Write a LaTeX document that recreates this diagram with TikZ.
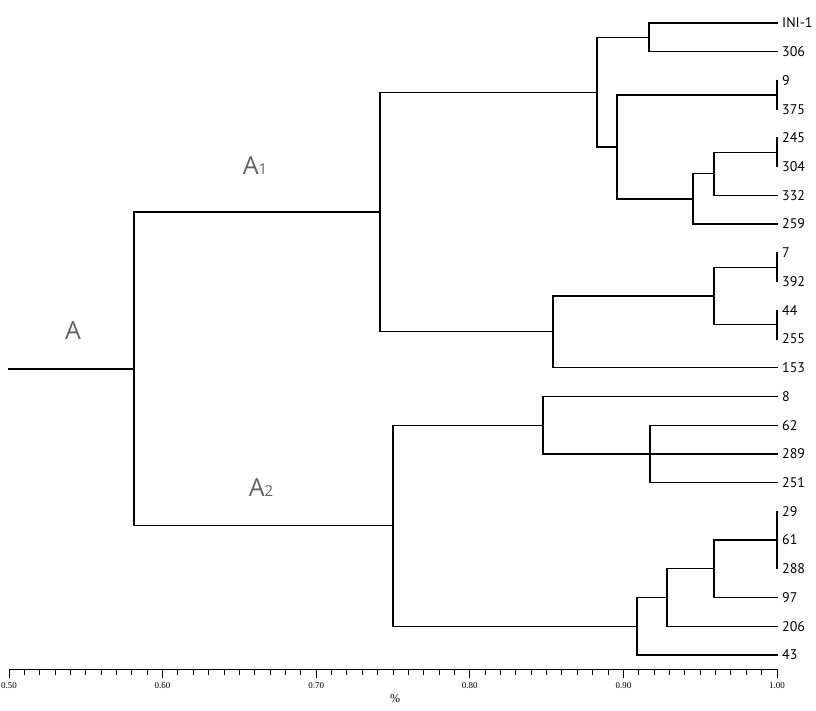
\documentclass[tikz,border=0pt]{standalone}
\usepackage{fontspec}
\newfontfamily\leaffont{PT Sans}
\newfontfamily\grpfont{Open Sans}
\newfontfamily\axfont{Liberation Serif}
\definecolor{grplab}{HTML}{636363}
\tikzset{
  branch/.style={line width=1.3pt, line cap=rect},
  leaflab/.style={anchor=west, inner sep=0pt, font=\leaffont\fontsize{14}{14}\selectfont},
  grplabel/.style={text=grplab, inner sep=0pt, font=\grpfont\fontsize{25}{25}\selectfont},
  axlab/.style={inner sep=0pt, font=\axfont\fontsize{9}{9}\selectfont},
  axline/.style={line width=1pt},
}
\begin{document}
\begin{tikzpicture}[x=1pt,y=-1pt]
\useasboundingbox (0,0) rectangle (816,710);
% leaves
\foreach \i/\lab [count=\k from 0] in {l1/INI-1,l2/306,l3/9,l4/375,l5/245,l6/304,l7/332,l8/259,l9/7,l10/392,l11/44,l12/255,l13/153,l14/8,l15/62,l16/289,l17/251,l18/29,l19/61,l20/288,l21/97,l22/206,l23/43}{
  \coordinate (\i) at (777,{23+\k*28.727});
  \node[leaflab] (t\i) at (782,{23+\k*28.727}) {\lab};
}
% internal nodes
\coordinate (n1) at (649,37.4);
\coordinate (n2) at (777,94.9);
\coordinate (n3) at (777,152.3);
\coordinate (n4) at (714,173.8);
\coordinate (n5) at (693,199.0);
\coordinate (n6) at (617,146.9);
\coordinate (n7) at (597,92.2);
\coordinate (n8) at (777,267.2);
\coordinate (n9) at (777,324.6);
\coordinate (n10) at (714,295.9);
\coordinate (n11) at (553,331.8);
\coordinate (a1) at (380,212.0);
\coordinate (n12) at (650,453.9);
\coordinate (n13) at (543,425.2);
\coordinate (n14) at (777,540.1);
\coordinate (n15) at (714,568.8);
\coordinate (n16) at (667,597.5);
\coordinate (n17) at (637,626.3);
\coordinate (a2) at (393,525.7);
\coordinate (root) at (134,368.9);
\coordinate (stem) at (9,368.9);
% branches
\draw[branch] (n1) |- (l1) (n1) |- (l2);
\draw[branch] (n2) |- (l3) (n2) |- (l4);
\draw[branch] (n3) |- (l5) (n3) |- (l6);
\draw[branch] (n4) |- (n3) (n4) |- (l7);
\draw[branch] (n5) |- (n4) (n5) |- (l8);
\draw[branch] (n6) |- (n2) (n6) |- (n5);
\draw[branch] (n7) |- (n1) (n7) |- (n6);
\draw[branch] (n8) |- (l9) (n8) |- (l10);
\draw[branch] (n9) |- (l11) (n9) |- (l12);
\draw[branch] (n10) |- (n8) (n10) |- (n9);
\draw[branch] (n11) |- (n10) (n11) |- (l13);
\draw[branch] (a1) |- (n7) (a1) |- (n11);
\draw[branch] (n12) |- (l15) (n12) |- (l16) (n12) |- (l17);
\draw[branch] (n13) |- (l14) (n13) |- (n12);
\draw[branch] (n14) |- (l18) (n14) |- (l19) (n14) |- (l20);
\draw[branch] (n15) |- (n14) (n15) |- (l21);
\draw[branch] (n16) |- (n15) (n16) |- (l22);
\draw[branch] (n17) |- (n16) (n17) |- (l23);
\draw[branch] (a2) |- (n13) (a2) |- (n17);
\draw[branch] (root) |- (a1) (root) |- (a2);
\draw[branch] (stem) -- (root);
% group labels
\node[grplabel] (labA) at (73,331) {A};
\node[grplabel] (labA1) at (255,166) {A{\fontsize{15}{15}\selectfont 1}};
\node[grplabel] (labA2) at (261,488) {A{\fontsize{15}{15}\selectfont 2}};
% axis
\draw[axline] (9,669) -- (777,669);
\foreach \j in {0,...,50}{
  \draw[axline] ({9+\j*15.36},669) -- ({9+\j*15.36},675);
}
\foreach \j/\v in {0/0.50,1/0.60,2/0.70,3/0.80,4/0.90,5/1.00}{
  \draw[axline] ({9+\j*153.6},669) -- ({9+\j*153.6},678);
  \node[axlab] (ax\j) at ({9+\j*153.6},686) {\v};
}
\node[inner sep=0pt, font=\axfont\fontsize{12}{12}\selectfont] (pct) at (395,699) {\%};
\end{tikzpicture}
\end{document}
